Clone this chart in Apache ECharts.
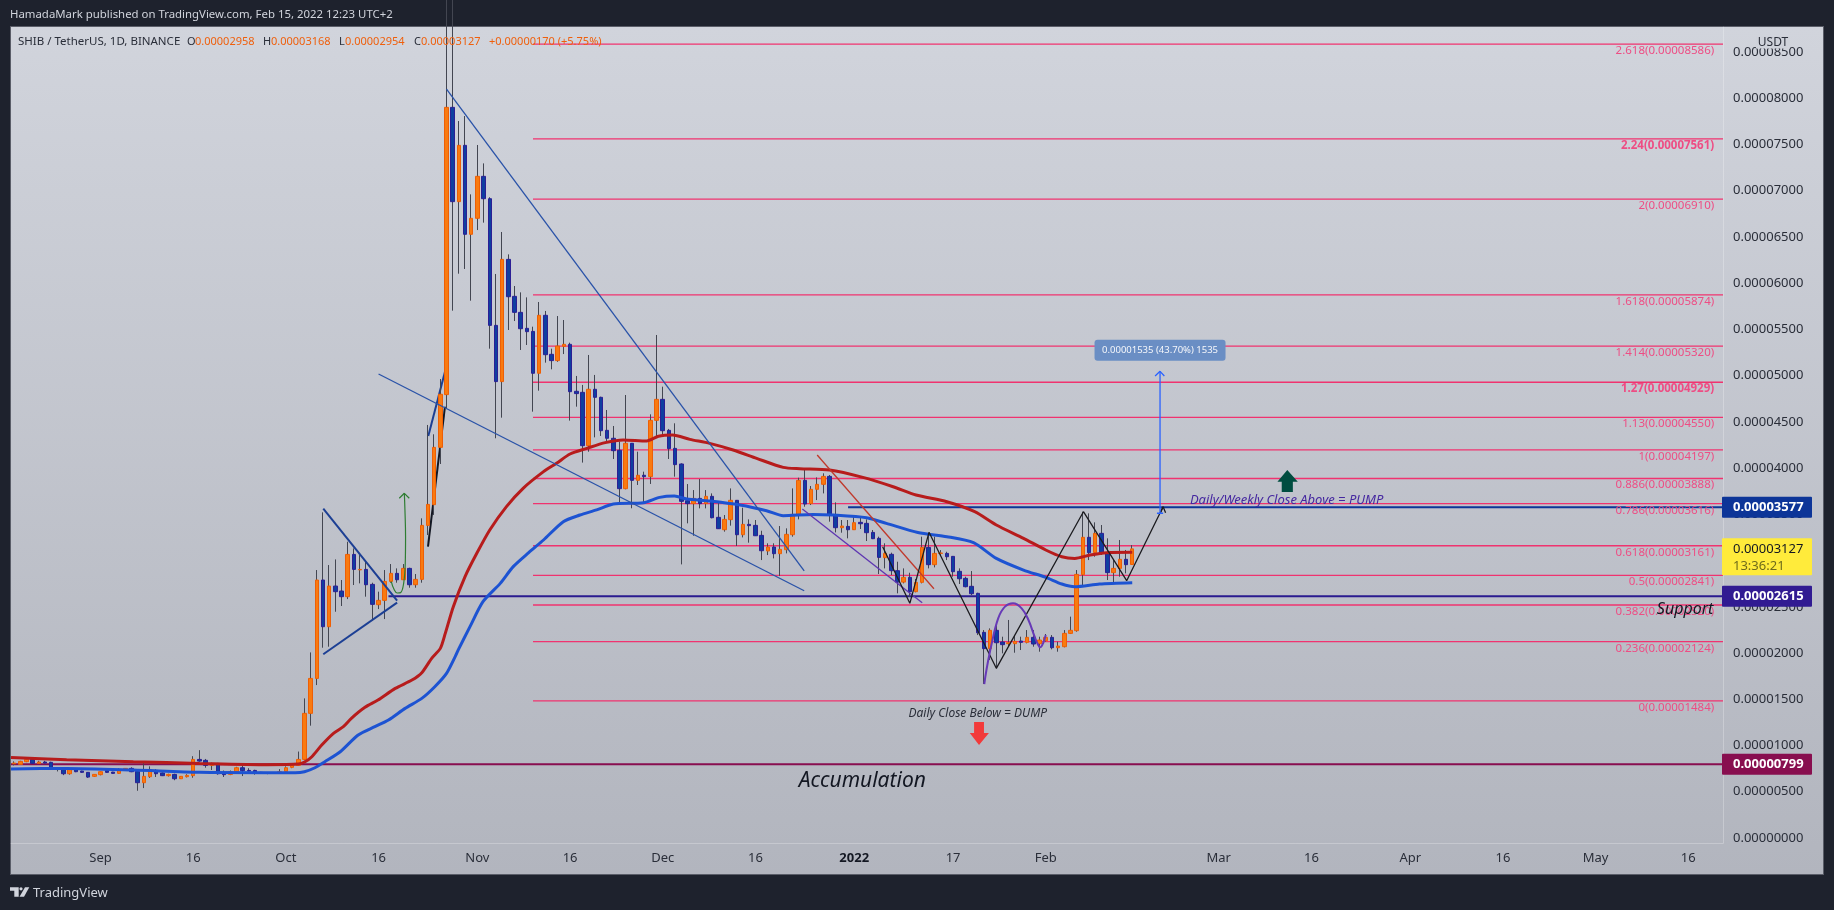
<!DOCTYPE html>
<html>
<head>
<meta charset="utf-8">
<title>SHIB / TetherUS</title>
<script src="https://cdn.jsdelivr.net/npm/echarts@6/dist/echarts.min.js"></script>
<style>
html,body{margin:0;padding:0;background:#1e222d;overflow:hidden}
#frame{position:absolute;left:10px;top:26px;width:1812px;height:847px;border:1.5px solid #5a5d68;background:linear-gradient(180deg,#d1d4dc 0%,#b2b5be 100%)}
#chart{position:absolute;left:0;top:0;width:1834px;height:910px}
</style>
</head>
<body>
<div id="frame"></div>
<div id="chart"></div>
<script>
// Prices are in units of 0.00000001 USDT. Days count from 1 Sep 2021 (day 0).
const firstCandleDay = -14;
const opens = [803,796,825,850,807,822,818,742,757,695,742,724,710,667,
685,728,713,699,742,753,720,598,663,731,
703,674,688,641,663,674,850,840,785,807,
706,688,717,760,731,731,710,699,700,699,
720,764,785,850,1348,1726,2790,2285,2725,2671,
2610,3067,2900,2905,2743,2523,2570,2775,2862,2793,
2916,2739,2797,3381,3605,4225,4795,7902,6882,7491,
6529,6702,7156,6914,5544,4936,6258,5858,5685,5512,
5479,5026,5653,5231,5163,5317,5339,4831,4820,4243,
4853,4766,4409,4323,4193,3778,4269,3868,3923,3908,
4517,4744,4409,4214,4045,3648,3616,3673,3616,3695,
3468,3334,3443,3652,3280,3392,3381,3273,3104,3147,
3075,3118,3280,3497,3868,3616,3771,3825,3911,3493,
3356,3370,3334,3414,3403,3305,3241,3032,3068,2891,
2768,2819,2664,2765,3143,2956,3078,3078,3046,2884,
2808,2722,2646,2224,2048,2246,2120,2102,2102,2130,
2116,2170,2102,2134,2170,2058,2069,2213,2242,2848,
3252,3086,3295,3079,2870,2916,3014,2958];
const closes = [811,829,850,807,822,811,742,757,695,742,717,710,659,688,
717,710,699,742,753,717,598,667,728,695,
674,688,641,667,677,850,832,785,807,695,
685,717,760,728,724,706,699,703,706,717,
760,785,850,1348,1726,2790,2285,2725,2664,2610,
3067,2905,2905,2739,2527,2570,2775,2862,2793,2916,
2739,2797,3381,3608,4225,4799,7902,6882,7491,6529,
6702,7156,6914,5544,4936,6258,5854,5685,5508,5476,
5026,5653,5227,5163,5321,5339,4827,4806,4243,4853,
4766,4405,4323,4189,3778,4269,3868,3923,3908,4517,
4744,4405,4211,4038,3641,3616,3673,3616,3695,3464,
3345,3446,3652,3280,3392,3378,3269,3107,3147,3075,
3122,3284,3500,3868,3612,3771,3825,3911,3489,3356,
3374,3334,3410,3399,3302,3237,3035,3078,2891,2768,
2819,2664,2765,3143,2956,3078,3082,3042,2880,2804,
2718,2642,2220,2048,2246,2112,2091,2112,2127,2116,
2170,2098,2141,2170,2058,2076,2213,2246,2851,3252,
3086,3295,3082,2870,2916,3014,2956,3127];
const highs = [829,835,860,860,835,835,825,760,760,750,745,728,712,690,
720,730,716,755,756,765,735,825,775,745,
710,695,695,670,690,885,950,855,815,812,
730,730,770,785,755,738,715,710,712,745,
775,810,935,1510,2007,2898,3522,2952,3013,2790,
3204,3132,3060,2988,2761,2664,2898,2963,2916,2963,
2923,2855,3457,4467,4366,4964,9300,9100,7754,7808,
6961,7495,7296,6930,6100,6554,6312,5970,5901,5847,
5530,5797,5700,5292,5645,5602,5357,4997,4900,5224,
5008,4773,4629,4456,4287,4791,4269,4178,3962,4582,
5440,4881,4424,4485,4052,3828,3763,3882,3763,3727,
3626,3493,3781,3655,3572,3446,3439,3323,3187,3187,
3374,3349,3781,3897,3987,3807,3900,3944,3926,3630,
3439,3439,3475,3468,3446,3331,3259,3187,3086,2988,
2916,2869,2801,3259,3302,3259,3114,3096,3050,2916,
2826,2887,2653,2249,2267,2332,2177,2358,2195,2177,
2249,2249,2177,2206,2195,2123,2249,2394,2898,3529,
3511,3414,3385,3241,3006,3223,3115,3168];
const lows = [785,790,820,800,800,805,738,720,680,685,712,705,650,660,
678,706,697,695,740,712,511,540,650,660,
670,665,625,638,655,652,825,760,735,685,
660,680,712,670,715,685,695,690,695,695,
715,755,780,840,1215,1654,2058,2069,2447,2509,
2584,2736,2754,2610,2350,2476,2368,2761,2761,2790,
2707,2707,2761,3277,3494,4045,4647,5703,6103,6154,
5811,6575,6655,5292,4323,4546,5494,5591,5278,5332,
4611,4838,5141,5069,5150,5234,4514,4665,4060,4178,
4333,4348,4287,4099,3612,3771,3566,3818,3620,3829,
4341,4341,4099,3908,2959,3403,3269,3565,3565,3457,
3342,3313,3378,3158,3251,3194,3266,3006,3060,3024,
2833,3078,3259,3446,3583,3601,3655,3727,3421,3305,
3302,3241,3331,3342,3212,3233,2855,2916,2844,2646,
2754,2610,2657,2754,2916,2927,3060,3006,2826,2747,
2711,2628,2195,1665,1925,1835,1997,2069,2004,2033,
2105,2069,2015,2123,2040,2015,2062,2206,2231,2718,
3006,3042,3061,2790,2754,2826,2862,2954];

const redMaDays = [-14.5,-5.5,5.3,16,27,32,33.1,34.2,35.8,37.7,39.3,40.6,42.8,44.9,47.7,50.4,52,53.6,55,55.8,57.1,59,60.9,63,65.7,68.4,71.7,73.8,76,78.7,81.7,84.6,88.4,90.3,92.6,95.4,98.6,102.4,106.2,110.5,113.2,118,123.4,128.3,132,137,141.5,145,149.4,153,155.6,157.7,160.2,162.9,167];
const redMaValues = [872,847,825,807,793,800,825,879,1005,1132,1204,1294,1413,1492,1618,1708,1788,1943,2051,2213,2502,2827,3079,3331,3584,3782,3962,4052,4153,4214,4276,4305,4294,4345,4358,4311,4268,4196,4106,4008,3994,3980,3900,3799,3709,3637,3529,3385,3241,3115,3042,3024,3061,3086,3090];
const blueMaDays = [-14.5,-5.5,5.3,16,27,31.5,33,34.7,36.3,38.8,41.7,44.4,46.6,49.3,52,54.1,56,57.4,57.9,59.8,61.9,64.7,66.8,69.3,71.7,74.9,77.6,80.3,83,87.9,90.5,92.9,94.9,98.6,103.5,107.8,110.5,115.3,118.6,124,127.2,132.3,137,141.3,145,149.4,153,155.6,157.7,161.7,167];
const blueMaValues = [746,753,735,710,706,706,717,760,825,933,1114,1204,1276,1402,1510,1636,1780,1961,2034,2286,2556,2754,2935,3086,3223,3421,3493,3548,3612,3626,3684,3698,3666,3644,3601,3540,3486,3500,3493,3464,3403,3304,3259,3194,3024,2898,2819,2747,2718,2747,2761];

const fibValues = [8586,7561,6910,5874,5320,4929,4550,4197,3888,3616,3161,2841,2520,2124,1484];
const fibLabels = ['2.618(0.00008586)','2.24(0.00007561)','2(0.00006910)','1.618(0.00005874)','1.414(0.00005320)','1.27(0.00004929)','1.13(0.00004550)','1(0.00004197)','0.886(0.00003888)','0.786(0.00003616)','0.618(0.00003161)','0.5(0.00002841)','0.382(0.00002520)','0.236(0.00002124)','0(0.00001484)'];
const fibBoldLabels = ['2.24(0.00007561)','1.27(0.00004929)'];
const fibStartDay = 70;
const axisEndDay = 262.63;

const tickDays = [0,15,30,45,61,76,91,106,122,138,153,181,196,212,227,242,257];
const tickNames = ['Sep','16','Oct','16','Nov','16','Dec','16','2022','17','Feb','Mar','16','Apr','16','May','16'];
const priceTicks = [0,500,1000,1500,2000,2500,3000,3500,4000,4500,5000,5500,6000,6500,7000,7500,8000,8500];

const resistanceValue = 3577, supportValue = 2615, accumulationValue = 799, lastClose = 3127;
const resistanceDays = [121,axisEndDay];
const supportDays = [46.6,axisEndDay];
const accumulationDays = [-14.5,axisEndDay];

const wedgeTopDays = [56,113.9], wedgeTopValues = [8100,2888];
const wedgeLowDays = [45,113.9], wedgeLowValues = [5018,2674];
const triTopDays = [36.05,48], triTopValues = [3561,2566];
const triLowDays = [36.05,48], triLowValues = [1987,2545];
const riseBlueDays = [53.05,55.75], riseBlueValues = [4348,5043];
const riseBlackDays = [53,55.75], riseBlackValues = [3151,4664];
const greenCurveDays = [47.06,47.5,48.03,48.57,49.06,49.32,49.37,49.27,49.17];
const greenCurveValues = [2773,2690,2650,2654,2754,2971,3259,3548,3728];
const greenHeadDays = [48.35,49.17,49.97], greenHeadValues = [3674,3728,3674];
const redTrendDays = [116,134.9], redTrendValues = [4142,2696];
const purpleTrendDays = [113.6,133], purpleTrendValues = [3558,2545];
const zigzagDays = [126.6,131,134.1,145,159.1,166.1,172];
const zigzagValues = [3150,2538,3306,1835,3529,2783,3583];
const zigzagHeadDays = [171.6,172,172.4], zigzagHeadValues = [3521,3583,3518];
const cupDays = [143.05,143.4,144.2,145.3,146.4,147.7,149.1,150.2,151.2,151.7,152.1,152.6,153];
const cupValues = [1665,1817,2087,2376,2502,2538,2484,2358,2177,2098,2062,2112,2195];
const targetDays = [171.5,171.5], targetValues = [3512,5047];
const targetHeadDays = [170.7,171.5,172.2], targetHeadValues = [4997,5047,4997];
const targetCapDays = [171,172], targetCapValues = [3512,3512];
const greenArrowDays = [192.1,193.8,193,193,191.2,191.2,190.5];
const greenArrowValues = [3980,3853,3853,3742,3742,3853,3853];
const redArrowDays = [142.2,143.8,143,143,141.4,141.4,140.7];
const redArrowValues = [1006,1136,1136,1255,1255,1136,1136];

const noteTexts = ['Daily/Weekly Close Above = PUMP','Daily Close Below = DUMP','Accumulation','Support'];
const noteDays = [192,142,123.3,256.5];
const noteValues = [3656,1346,616,2473];
const measureText = '0.00001535 (43.70%) 1535';
const measureDay = 171.5, measureValue = 5274;

const legendTexts = ['SHIB / TetherUS, 1D, BINANCE','O','0.00002958','H','0.00003168','L','0.00002954','C','0.00003127','+0.00000170 (+5.75%)'];

// ---- chart ----
const FONT = '"Noto Sans", sans-serif';
const PINK = '#f0336f';
const chart = echarts.init(document.getElementById('chart'), null, {renderer:'canvas', width:1834, height:910});

const wickData = opens.map((o,i)=>[firstCandleDay+i,o,closes[i],lows[i],highs[i]]);
const bodyData = opens.map((o,i)=>[firstCandleDay+i,o,closes[i],Math.min(o,closes[i]),Math.max(o,closes[i])]);

function line(name,days,vals,color,width,z,extra){
  return Object.assign({type:'line',name,data:days.map((d,i)=>[d,vals[i]]),showSymbol:false,silent:true,z,
    lineStyle:{color,width},animation:false,clip:true},extra||{});
}
function hline(name,days,val,color,width,z){
  return line(name,days,[val,val],color,width,z);
}
function polygon(name,days,vals,color,z){
  return {type:'custom',name,silent:true,z,clip:false,data:[[days[0],vals[0]]],
    renderItem(p,api){
      return {type:'polygon',shape:{points:days.map((d,i)=>api.coord([d,vals[i]]))},style:{fill:color}};
    }};
}

const noteStyles = [
 {font:'italic 13px '+FONT,fill:'#4527a0'},
 {font:'italic 12px '+FONT,fill:'#2a2e39'},
 {font:'italic 21px '+FONT,fill:'#131722'},
 {font:'italic 16px '+FONT,fill:'#131722'}
];

const series = [];
fibValues.forEach((v,i)=>series.push(hline('fib '+fibLabels[i],[fibStartDay,axisEndDay],v,PINK,1.3,1)));
series.push(hline('accumulation',accumulationDays,accumulationValue,'#880e4f',2,1));
series.push(hline('support',supportDays,supportValue,'#2a1b8f',2,1));
series.push(hline('resistance',resistanceDays,resistanceValue,'#0d3598',2,1));
series.push(line('rise black',riseBlackDays,riseBlackValues,'#131722',2,1));
series.push(line('rise blue',riseBlueDays,riseBlueValues,'#1c3f94',2,1));
series.push({type:'candlestick',name:'wicks',data:wickData,barWidth:0,z:2,silent:true,animation:false,
  itemStyle:{color:'#434651',color0:'#434651',borderColor:'#434651',borderColor0:'#434651',borderWidth:1}});
series.push({type:'candlestick',name:'SHIB/USDT',data:bodyData,barWidth:4,z:3,silent:true,animation:false,
  itemStyle:{color:'#f97a10',color0:'#0f3fa0',borderColor:'#ee5f05',borderColor0:'#2c1f95',borderWidth:1}});
series.push(line('MA red',redMaDays,redMaValues,'#b71c1c',3,4,{smooth:0.25}));
series.push(line('MA blue',blueMaDays,blueMaValues,'#1d53d2',3,4,{smooth:0.25}));
series.push(line('wedge top',wedgeTopDays,wedgeTopValues,'#2952a8',1.3,5));
series.push(line('wedge low',wedgeLowDays,wedgeLowValues,'#2952a8',1.3,5));
series.push(line('triangle top',triTopDays,triTopValues,'#1c3f94',2,5));
series.push(line('triangle low',triLowDays,triLowValues,'#1c3f94',2,5));
series.push(line('green curve',greenCurveDays,greenCurveValues,'#2e7d32',1.2,5,{smooth:0.4}));
series.push(line('green head',greenHeadDays,greenHeadValues,'#2e7d32',1.2,5));
series.push(line('red trend',redTrendDays,redTrendValues,'#c0392b',1.3,5));
series.push(line('purple trend',purpleTrendDays,purpleTrendValues,'#5e35b1',1.3,5));
series.push(line('zigzag',zigzagDays,zigzagValues,'#1b1b1f',1.3,5));
series.push(line('zigzag head',zigzagHeadDays,zigzagHeadValues,'#1b1b1f',1.3,5));
series.push(line('cup',cupDays,cupValues,'#673ab7',2,5,{smooth:0.4}));
series.push(line('target',targetDays,targetValues,'#2962ff',1.3,5));
series.push(line('target head',targetHeadDays,targetHeadValues,'#2962ff',1.3,5));
series.push(line('target cap',targetCapDays,targetCapValues,'#2962ff',1.3,5));
series.push(polygon('pump arrow',greenArrowDays,greenArrowValues,'#004d40',6));
series.push(polygon('dump arrow',redArrowDays,redArrowValues,'#f23a3a',6));

series.push({type:'custom',name:'fib labels',silent:true,z:7,clip:false,
  data:fibValues.map(v=>[261.2,v]),
  renderItem(p,api){
    const c=api.coord([api.value(0),api.value(1)]);
    const t=fibLabels[p.dataIndex];
    const bold=fibBoldLabels.includes(t);
    return {type:'text',x:c[0],y:c[1]+6.7,style:{text:t,textAlign:'right',textVerticalAlign:'middle',
      font:(bold?'bold ':'')+'11.5px '+FONT,fill:'#ee4d84'}};
  }});
series.push({type:'custom',name:'notes',silent:true,z:8,clip:false,
  data:noteDays.map((d,i)=>[d,noteValues[i]]),
  renderItem(p,api){
    const c=api.coord([api.value(0),api.value(1)]);
    const s=noteStyles[p.dataIndex];
    return {type:'text',x:c[0],y:c[1],style:{text:noteTexts[p.dataIndex],textAlign:'center',textVerticalAlign:'middle',font:s.font,fill:s.fill}};
  }});
series.push({type:'custom',name:'measure',silent:true,z:8,clip:false,data:[[measureDay,measureValue]],
  renderItem(p,api){
    const c=api.coord([api.value(0),api.value(1)]);
    return {type:'group',children:[
      {type:'rect',shape:{x:c[0]-65.5,y:c[1]-10.5,width:131,height:21,r:3},style:{fill:'#6a8ec4'}},
      {type:'text',x:c[0],y:c[1],style:{text:measureText,textAlign:'center',textVerticalAlign:'middle',font:'9.5px '+FONT,fill:'#f5f7fb'}}
    ]};
  }});

function staticGraphics(){
  const g=[];
  const xs=[18,187,195,263,271,339,345,414,421,489];
  const colors=['#2a2e39','#2a2e39','#ef5f0c','#2a2e39','#ef5f0c','#2a2e39','#ef5f0c','#2a2e39','#ef5f0c','#ef5f0c'];
  legendTexts.forEach((t,i)=>g.push({type:'text',x:xs[i],y:41.5,z:50,style:{text:t,fill:colors[i],font:(i===0?'11.5px ':'11px ')+FONT,textVerticalAlign:'middle'}}));
  g.push({type:'text',x:10,y:15,z:50,style:{text:'HamadaMark published on TradingView.com, Feb 15, 2022 12:23 UTC+2',fill:'#d1d4dc',font:'11.4px '+FONT,textVerticalAlign:'middle'}});
  g.push({type:'text',x:33,y:893,z:50,style:{text:'TradingView',fill:'#d1d4dc',font:'13px '+FONT,textVerticalAlign:'middle'}});
  g.push({type:'polygon',z:50,shape:{points:[[10,887.3],[18.7,887.3],[18.7,896.7],[14.3,896.7],[14.3,890.7],[10,890.7]]},style:{fill:'#d1d4dc'}});
  g.push({type:'circle',z:50,shape:{cx:21,cy:888.8,r:1.6},style:{fill:'#d1d4dc'}});
  g.push({type:'polygon',z:50,shape:{points:[[19.5,896.7],[25,887.3],[29.3,887.3],[24,896.7]]},style:{fill:'#d1d4dc'}});
  g.push({type:'rect',z:50,shape:{x:1756,y:36.5,width:34,height:12},style:{fill:'#cfd2da'}});
  g.push({type:'text',x:1773,y:43,z:51,style:{text:'USDT',fill:'#2a2e39',font:'12px '+FONT,textAlign:'center',textVerticalAlign:'middle'}});
  return g;
}

chart.setOption({
  animation:false,
  backgroundColor:'transparent',
  grid:{left:11,top:27,width:1712,height:816,containLabel:false},
  xAxis:{type:'value',min:-14.5,max:axisEndDay,position:'bottom',
    axisLine:{show:true,lineStyle:{color:'rgba(255,255,255,0.25)',width:1},onZero:false},
    axisTick:{show:false},splitLine:{show:false},
    axisLabel:{customValues:tickDays,margin:9,fontSize:13,fontFamily:FONT,color:'#2a2e39',hideOverlap:false,
      formatter:v=>{const n=tickNames[tickDays.indexOf(v)];return n==='2022'?'{b|2022}':n;},
      rich:{b:{fontWeight:'bold',fontSize:13,fontFamily:FONT,color:'#131722'}}}},
  yAxis:{type:'value',min:-54,max:8771,position:'right',
    axisLine:{show:true,lineStyle:{color:'rgba(255,255,255,0.25)',width:1},onZero:false},
    axisTick:{show:false},splitLine:{show:false},
    axisLabel:{customValues:priceTicks,margin:10,fontSize:13,fontFamily:FONT,color:'#2a2e39',hideOverlap:false,
      formatter:v=>(v/1e8).toFixed(8)}},
  graphic:{elements:staticGraphics()},
  series
});

const tagX=1722, tagW=90;
function tagElements(){
  const y=v=>chart.convertToPixel({yAxisIndex:0},v);
  const out=[];
  [[resistanceValue,'#0d3598'],[supportValue,'#311b92'],[accumulationValue,'#880e4f']].forEach(([v,col])=>{
    const cy=y(v);
    out.push({type:'rect',z:60,shape:{x:tagX,y:cy-10.5,width:tagW,height:21,r:1},style:{fill:col}});
    out.push({type:'text',x:1733,y:cy,z:61,style:{text:(v/1e8).toFixed(8),fill:'#ffffff',font:'bold 13px '+FONT,textVerticalAlign:'middle'}});
  });
  const cy=y(lastClose);
  out.push({type:'rect',z:60,shape:{x:tagX,y:cy-10.5,width:tagW,height:37,r:1},style:{fill:'#ffeb3b'}});
  out.push({type:'text',x:1733,y:cy,z:61,style:{text:(lastClose/1e8).toFixed(8),fill:'#131722',font:'13px '+FONT,textVerticalAlign:'middle'}});
  out.push({type:'text',x:1733,y:cy+17,z:61,style:{text:'13:36:21',fill:'#6f6b1c',font:'13px '+FONT,textVerticalAlign:'middle'}});
  return out;
}
chart.setOption({graphic:{elements:staticGraphics().concat(tagElements())}});
</script>
</body>
</html>
